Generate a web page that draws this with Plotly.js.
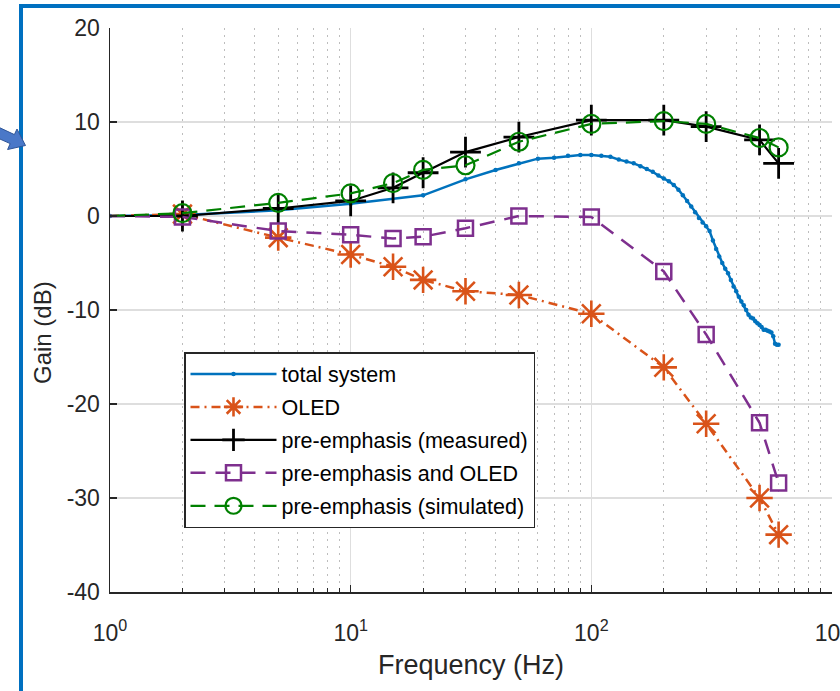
<!DOCTYPE html>
<html>
<head>
<meta charset="utf-8">
<script src="https://cdn.plot.ly/plotly-3.0.1.min.js"></script>
<style>
html,body{margin:0;padding:0;background:#fff;}
#chart{width:840px;height:691px;overflow:hidden;}
</style>
</head>
<body>
<div id="chart"></div>
<script>
// ---- data ----
var freqMarkers = [1, 2, 5, 10, 15, 20, 30, 50, 100, 200, 300, 500, 600];
var oledGain      = [0, 0.2, -2.3, -4.1, -5.4, -6.8, -8.0, -8.4, -10.4, -16.1, -22.1, -30.0, -33.9];
var preMeasured   = [0, 0.0, 0.8, 1.6, 3.0, 4.6, 6.8, 8.4, 10.2, 10.2, 9.5, 8.1, 5.6];
var preAndOled    = [0, -0.1, -1.6, -2.0, -2.4, -2.2, -1.3, 0.0, -0.1, -5.9, -12.6, -22.0, -28.4];
var preSimulated  = [0, 0.3, 1.4, 2.4, 3.5, 4.9, 5.4, 7.9, 9.8, 10.1, 9.8, 8.3, 7.3];

var freqTotal = [1, 2, 5, 10, 20, 30, 40, 50, 60, 70, 80, 90, 100, 110, 120, 130, 140, 150, 160, 170, 180, 190,
  200, 210, 220, 230, 240, 250, 260, 270, 280, 290, 300, 310, 320, 330, 340, 350, 360, 370, 380, 390,
  400, 410, 420, 430, 440, 450, 460, 470, 480, 490, 500, 510, 520, 530, 540, 550, 560, 570, 580, 590, 600];
var totalGain = [0, 0.1, 0.6, 1.3, 2.2, 3.9, 4.9, 5.6, 6.1, 6.2, 6.4, 6.5, 6.5, 6.4, 6.3, 6.0, 5.8, 5.6, 5.3, 5.0, 4.7, 4.3,
  4.0, 3.7, 3.3, 2.8, 2.2, 1.6, 1.0, 0.4, -0.2, -0.7, -1.1, -1.6, -2.6, -3.5, -4.3, -5.0, -5.6, -6.1, -6.8, -7.5,
  -8.0, -8.6, -9.1, -9.5, -10.0, -10.5, -10.8, -10.9, -11.2, -11.4, -11.6, -11.8, -12.1, -12.1, -12.2, -12.3, -12.4, -12.8, -13.6, -13.7, -13.7];

var seriesNames = ['total system', 'OLED', 'pre-emphasis (measured)', 'pre-emphasis and OLED', 'pre-emphasis (simulated)'];
var xTickVals = [1, 10, 100, 1000];
var xTickText = ['10<sup>0</sup>', '10<sup>1</sup>', '10<sup>2</sup>', '10<sup>3</sup>'];
var yTickVals = [-40, -30, -20, -10, 0, 10, 20];
var yTickText = ['-40', '-30', '-20', '-10', '0', '10', '20'];
var xTitle = 'Frequency (Hz)';
var yTitle = 'Gain (dB)';

// ---- layout geometry ----
var W = 840, H = 691;
var M = {l: 110, r: 8, t: 28, b: 99};
var PW = W - M.l - M.r, PH = H - M.t - M.b;
function px(x) { return (x - M.l) / PW; }
function py(y) { return (H - M.b - y) / PH; }

var FONT = 'Liberation Sans, Arial, sans-serif';
var TXT = '#262626';

var traces = [
  {x: freqTotal, y: totalGain, name: seriesNames[0], mode: 'lines+markers', legendgroup: 'a',
   line: {color: '#0072BD', width: 2.5}, marker: {symbol: 'circle', size: 4.5, color: '#0072BD'}}
];

// Marker series: the 1 Hz start point is joined by the line but carries no marker.
function addMarkerSeries(name, group, yvals, lineStyle, markerStyle) {
  traces.push({x: freqMarkers.slice(0, 2), y: yvals.slice(0, 2), mode: 'lines', showlegend: false,
               legendgroup: group, line: lineStyle, hoverinfo: 'skip'});
  traces.push({x: freqMarkers.slice(1), y: yvals.slice(1), name: name, mode: 'lines+markers',
               legendgroup: group, line: lineStyle, marker: markerStyle});
}
addMarkerSeries(seriesNames[1], 'b', oledGain,
  {color: '#D95319', width: 2.5, dash: '9px,5px,2px,5px'},
  {symbol: 'asterisk-open', size: 22, line: {color: '#D95319', width: 2.6}});
addMarkerSeries(seriesNames[2], 'c', preMeasured,
  {color: '#000000', width: 2.2},
  {symbol: 'cross-thin-open', size: 22, line: {color: '#000000', width: 2.8}});
addMarkerSeries(seriesNames[3], 'd', preAndOled,
  {color: '#7E2F8E', width: 2.5, dash: '15px,10px'},
  {symbol: 'square-open', size: 15, line: {color: '#7E2F8E', width: 2.5}});
addMarkerSeries(seriesNames[4], 'e', preSimulated,
  {color: '#008000', width: 2.2, dash: '15px,9px'},
  {symbol: 'circle-open', size: 18, line: {color: '#008000', width: 2.2}});

// decorative frame and arrow (slide background)
function pathFromPixels(pts) {
  return pts.map(function (p, i) { return (i ? 'L' : 'M') + px(p[0]).toFixed(5) + ',' + py(p[1]).toFixed(5); }).join(' ') + ' Z';
}
var arrowPts = [[-4, 126], [14.4, 134.6], [17, 129], [25.5, 145.5], [7.6, 149.5], [10.2, 143.6], [-8, 135.5]];

var layout = {
  width: W, height: H,
  margin: M,
  paper_bgcolor: '#ffffff', plot_bgcolor: '#ffffff',
  font: {family: FONT, color: TXT, size: 22},
  showlegend: true,
  legend: {
    x: px(184), y: py(352), xanchor: 'left', yanchor: 'top',
    bgcolor: '#ffffff', bordercolor: '#262626', borderwidth: 1.5,
    font: {family: FONT, size: 21.5, color: '#000000'},
    tracegroupgap: 2, itemwidth: 86
  },
  xaxis: {
    type: 'log', range: [0, 3],
    tickvals: xTickVals, ticktext: xTickText,
    ticks: 'inside', ticklen: 7, tickcolor: TXT, tickwidth: 1,
    showline: true, linecolor: TXT, linewidth: 1.5, mirror: false,
    showgrid: true, gridcolor: '#dedede', gridwidth: 1.5,
    zeroline: false,
    ticklabelstandoff: 20, ticklabeloverflow: 'allow',
    tickfont: {family: FONT, size: 23, color: TXT},
    minor: {dtick: 'D1', ticks: 'inside', ticklen: 4, tickcolor: TXT,
            showgrid: true, gridcolor: '#bdbdbd', griddash: '2px,5px', gridwidth: 1},
    title: {text: xTitle, font: {family: FONT, size: 27, color: TXT}, standoff: 10}
  },
  yaxis: {
    range: [-40, 20], tickvals: yTickVals, ticktext: yTickText,
    ticks: 'inside', ticklen: 7, tickcolor: TXT, tickwidth: 1.5,
    showline: true, linecolor: TXT, linewidth: 1.5, mirror: false,
    showgrid: true, gridcolor: '#dedede', gridwidth: 1.5,
    zeroline: false,
    ticklabelstandoff: 4,
    tickfont: {family: FONT, size: 23, color: TXT}
  },
  annotations: [
    {text: yTitle, xref: 'paper', yref: 'paper', x: px(42), y: py(333), xanchor: 'center', yanchor: 'middle',
     textangle: -90, showarrow: false, font: {family: FONT, size: 24, color: TXT}}
  ],
  shapes: [
    {type: 'line', xref: 'paper', yref: 'paper', x0: px(21), x1: px(845), y0: py(6), y1: py(6),
     line: {color: '#0070C0', width: 4}, layer: 'above'},
    {type: 'line', xref: 'paper', yref: 'paper', x0: px(21), x1: px(21), y0: py(4), y1: py(700),
     line: {color: '#0070C0', width: 4}, layer: 'above'},
    {type: 'path', xref: 'paper', yref: 'paper', path: pathFromPixels(arrowPts),
     fillcolor: '#4A78C8', line: {color: '#2F5597', width: 1}, layer: 'above'}
  ]
};

Plotly.newPlot('chart', traces, layout, {displayModeBar: false, staticPlot: true});
</script>
</body>
</html>
